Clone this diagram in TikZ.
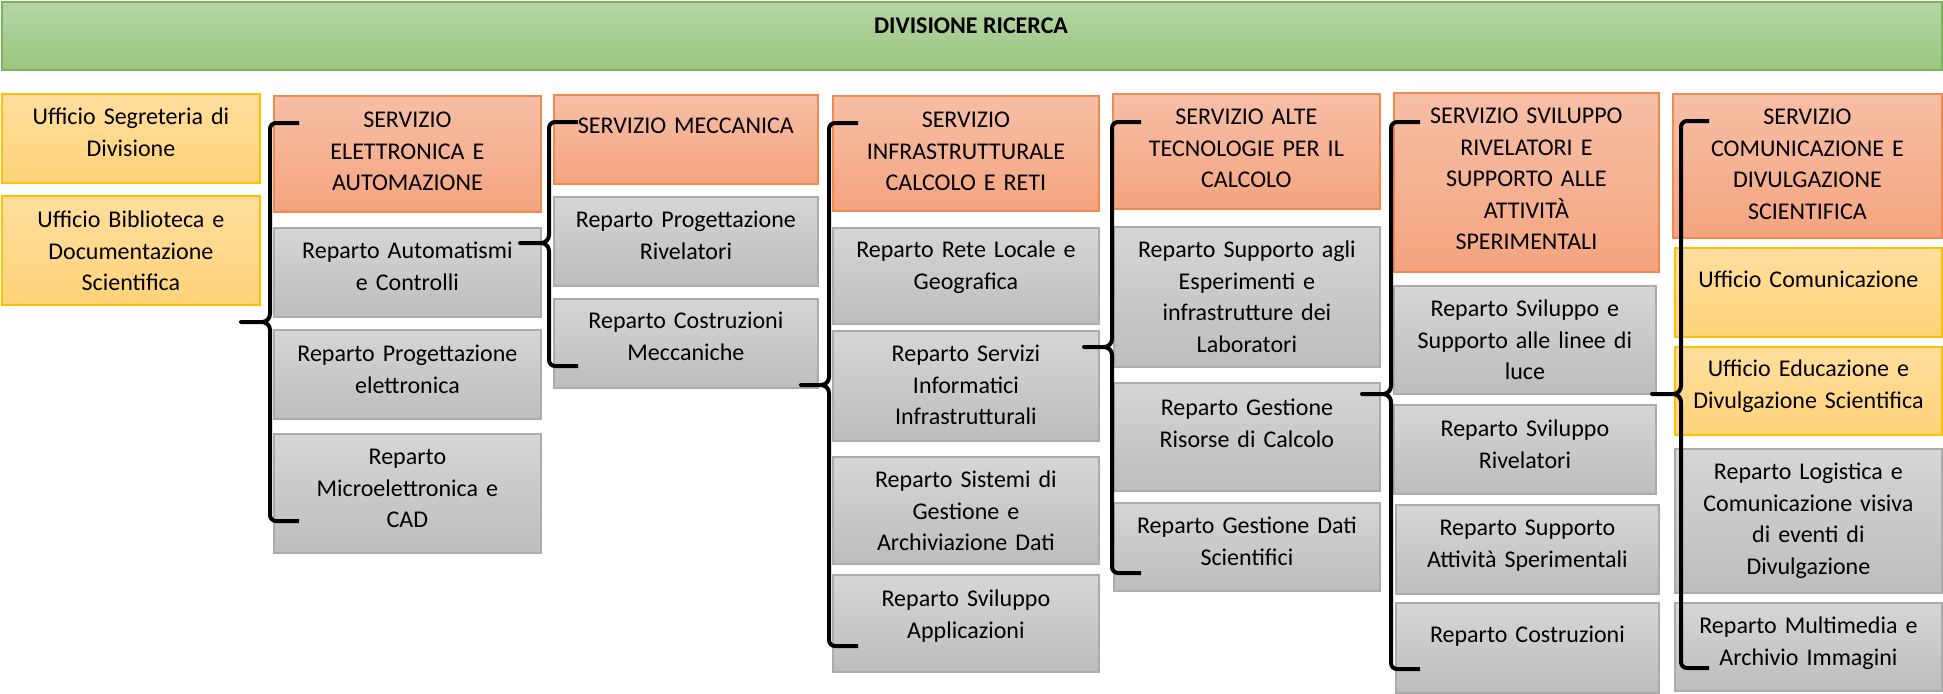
\documentclass[tikz,border=0pt]{standalone}
\usepackage{fontspec}
\setmainfont{Carlito}
\usetikzlibrary{calc}
\definecolor{grnT}{HTML}{B5D6A5}
\definecolor{grnB}{HTML}{9BC77F}
\definecolor{grnD}{HTML}{7AB55C}
\definecolor{orgT}{HTML}{F7BFA7}
\definecolor{orgB}{HTML}{F4A47F}
\definecolor{orgD}{HTML}{F08A4E}
\definecolor{gryT}{HTML}{D6D6D6}
\definecolor{gryB}{HTML}{BDBDBD}
\definecolor{gryD}{HTML}{ABABAB}
\definecolor{ylwT}{HTML}{FFDE9E}
\definecolor{ylwB}{HTML}{FFD379}
\definecolor{ylwD}{HTML}{FFC000}
\tikzset{
  boxbase/.style={line width=0.9pt, inner sep=0pt, anchor=north west},
  grnbox/.style={boxbase, draw=grnD, top color=grnT, bottom color=grnB},
  orgbox/.style={boxbase, draw=orgD, top color=orgT, bottom color=orgB},
  grybox/.style={boxbase, draw=gryD, top color=gryT, bottom color=gryB},
  ylwbox/.style={boxbase, draw=ylwD, top color=ylwT, bottom color=ylwB},
  txt/.style={font=\fontsize{12}{15.8}\selectfont, align=center, inner sep=0pt, anchor=north},
  bracepath/.style={draw=black, line width=2pt, line join=round}
}
% #1 name, #2 style, #3 x1, #4 y1, #5 x2, #6 y2, #7 baseline offset, #8 text
\newcommand\obox[8]{%
  \pgfmathsetmacro\bw{(#5-#3)*0.5}%
  \pgfmathsetmacro\bh{(#6-#4)*0.5}%
  \pgfmathsetmacro\tw{(#5-#3)*0.5-2}%
  \node[#2, minimum width=\bw pt, minimum height=\bh pt] (#1) at (#3,#4) {};
  \node[txt, text width=\tw pt] (#1-t) at ($(#1.north)+(0,#7-22.1)$) {\strut #8};
}
% #1 x, #2 top, #3 mid, #4 bottom, #5 tip x, #6 hook x
\newcommand\ubrace[6]{%
  \draw[bracepath] (#6,#2) -- (#1+6,#2) to[out=180,in=90] (#1,#2+6)
    -- (#1,#3-8) to[out=-90,in=0] (#1-8,#3) -- (#5,#3) -- (#1-8,#3)
    to[out=0,in=90] (#1,#3+8) -- (#1,#4-6) to[out=-90,in=180] (#1+6,#4) -- (#6,#4);
}
\begin{document}
\begin{tikzpicture}[x=0.5pt,y=-0.5pt]
\useasboundingbox (0,0) rectangle (1943,693);
% title bar
\node[grnbox, minimum width=970pt, minimum height=34pt] (div) at (1,1) {};
\node[font=\fontsize{12}{15.8}\selectfont\bfseries, inner sep=0pt, anchor=base] (div-t) at (971,33) {DIVISIONE RICERCA};
% column 0
\obox{segr}{ylwbox}{1}{93}{259}{182}{31}{Ufficio Segreteria di\\Divisione}
\obox{bibl}{ylwbox}{1}{195}{259}{304}{32}{Ufficio Biblioteca e\\Documentazione\\Scientifica}
% column 1
\obox{sel}{orgbox}{273}{95}{540}{211}{32}{SERVIZIO\\ELETTRONICA E\\AUTOMAZIONE}
\obox{raut}{grybox}{273}{227}{540}{316}{31}{Reparto Automatismi\\e Controlli}
\obox{rpel}{grybox}{273}{329}{540}{418}{32}{Reparto Progettazione\\elettronica}
\obox{rmic}{grybox}{273}{433}{540}{552}{31}{Reparto\\Microelettronica e\\CAD}
% column 2
\obox{smec}{orgbox}{553}{94}{817}{183}{39}{SERVIZIO MECCANICA}
\obox{rpri}{grybox}{553}{196}{817}{285}{31}{Reparto Progettazione\\Rivelatori}
\obox{rcme}{grybox}{553}{298}{817}{387}{30}{Reparto Costruzioni\\Meccaniche}
% column 3
\obox{sinf}{orgbox}{832}{95}{1098}{210}{32}{SERVIZIO\\INFRASTRUTTURALE\\CALCOLO E RETI}
\obox{rret}{grybox}{832}{227}{1098}{323}{30}{Reparto Rete Locale e\\Geografica}
\obox{rser}{grybox}{832}{330}{1098}{440}{31}{Reparto Servizi\\Informatici\\Infrastrutturali}
\obox{rsis}{grybox}{832}{456}{1098}{563}{31}{Reparto Sistemi di\\Gestione e\\Archiviazione Dati}
\obox{rapp}{grybox}{832}{574}{1098}{671}{32}{Reparto Sviluppo\\Applicazioni}
% column 4
\obox{salt}{orgbox}{1112}{93}{1379}{208}{31}{SERVIZIO ALTE\\TECNOLOGIE PER IL\\CALCOLO}
\obox{rspe}{grybox}{1113}{226}{1379}{366}{31}{Reparto Supporto agli\\Esperimenti e\\infrastrutture dei\\Laboratori}
\obox{rris}{grybox}{1113}{382}{1379}{490}{33}{Reparto Gestione\\Risorse di Calcolo}
\obox{rdat}{grybox}{1113}{502}{1379}{590}{31}{Reparto Gestione Dati\\Scientifici}
% column 5
\obox{ssvi}{orgbox}{1393}{92}{1658}{271}{31}{SERVIZIO SVILUPPO\\RIVELATORI E\\SUPPORTO ALLE\\ATTIVITÀ\\SPERIMENTALI}
\obox{rsup}{grybox}{1393}{285}{1655}{393}{31}{Reparto Sviluppo e\\Supporto alle linee di\\luce}
\obox{rriv}{grybox}{1393}{404}{1655}{493}{32}{Reparto Sviluppo\\Rivelatori}
\obox{ratt}{grybox}{1395}{504}{1658}{593}{31}{Reparto Supporto\\Attività Sperimentali}
\obox{rcos}{grybox}{1395}{602}{1658}{692}{40}{Reparto Costruzioni}
% column 6
\obox{scom}{orgbox}{1672}{93}{1941}{237}{31}{SERVIZIO\\COMUNICAZIONE E\\DIVULGAZIONE\\SCIENTIFICA}
\obox{ucom}{ylwbox}{1674}{247}{1941}{336}{40}{Ufficio Comunicazione}
\obox{uedu}{ylwbox}{1674}{346}{1941}{434}{30}{Ufficio Educazione e\\Divulgazione Scientifica}
\obox{rlog}{grybox}{1674}{448}{1941}{592}{31}{Reparto Logistica e\\Comunicazione visiva\\di eventi di\\Divulgazione}
\obox{rmul}{grybox}{1674}{602}{1941}{690}{31}{Reparto Multimedia e\\Archivio Immagini}
% braces
\ubrace{270}{123}{322}{521}{241}{299}
\ubrace{549}{122}{243}{366}{520}{578}
\ubrace{829}{123}{385}{646}{801}{858}
\ubrace{1112}{122}{347}{573}{1084}{1141}
\ubrace{1391}{122}{394}{669}{1362}{1420}
\ubrace{1681}{121}{394}{668}{1652}{1709}
\end{tikzpicture}
\end{document}
